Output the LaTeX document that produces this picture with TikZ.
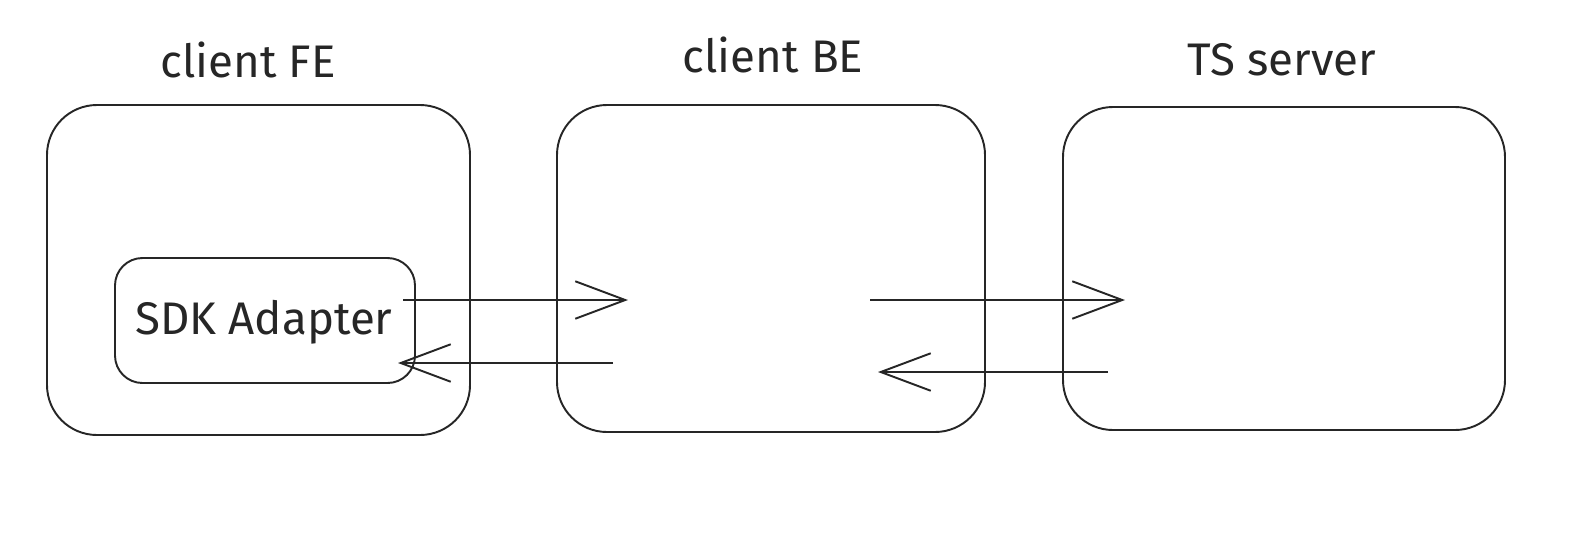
\documentclass[tikz,border=0pt]{standalone}
\usepackage{fontspec}
\setmainfont{Fira Sans}
\usetikzlibrary{arrows.meta}
\begin{document}
\begin{tikzpicture}[x=0.02cm,y=-0.02cm,
  box/.style={draw=black!85,line width=1.1pt,rounded corners=1cm},
  inner/.style={draw=black!85,line width=1.1pt,rounded corners=0.55cm},
  lbl/.style={font=\fontsize{26}{30}\selectfont,text=black!85},
  conn/.style={draw=black!85,line width=1.1pt,-{Straight Barb[length=1cm,width=0.75cm,line width=1.1pt]}}]
\useasboundingbox (0,0) rectangle (1576,538);
% boxes
\draw[box] (47,105) rectangle (470,435);
\draw[box] (557,105) rectangle (985,432);
\draw[box] (1063,107) rectangle (1505,430);
\draw[inner] (115,258) rectangle (415,383);
% titles
\node[lbl] (tfe) at (248,60) {client FE};
\node[lbl] (tbe) at (773,55) {client BE};
\node[lbl] (tts) at (1282,60) {TS server};
\node[lbl] (sdk) at (264,322) {SDK Adapter};
% connector endpoints
\coordinate (a1s) at (403,300);
\coordinate (a1e) at (628,300);
\coordinate (a2s) at (613,363);
\coordinate (a2e) at (398,363);
\coordinate (a3s) at (870,300);
\coordinate (a3e) at (1125,300);
\coordinate (a4s) at (1108,372);
\coordinate (a4e) at (878,372);
\draw[conn] (a1s) -- (a1e);
\draw[conn] (a2s) -- (a2e);
\draw[conn] (a3s) -- (a3e);
\draw[conn] (a4s) -- (a4e);
\end{tikzpicture}
\end{document}
